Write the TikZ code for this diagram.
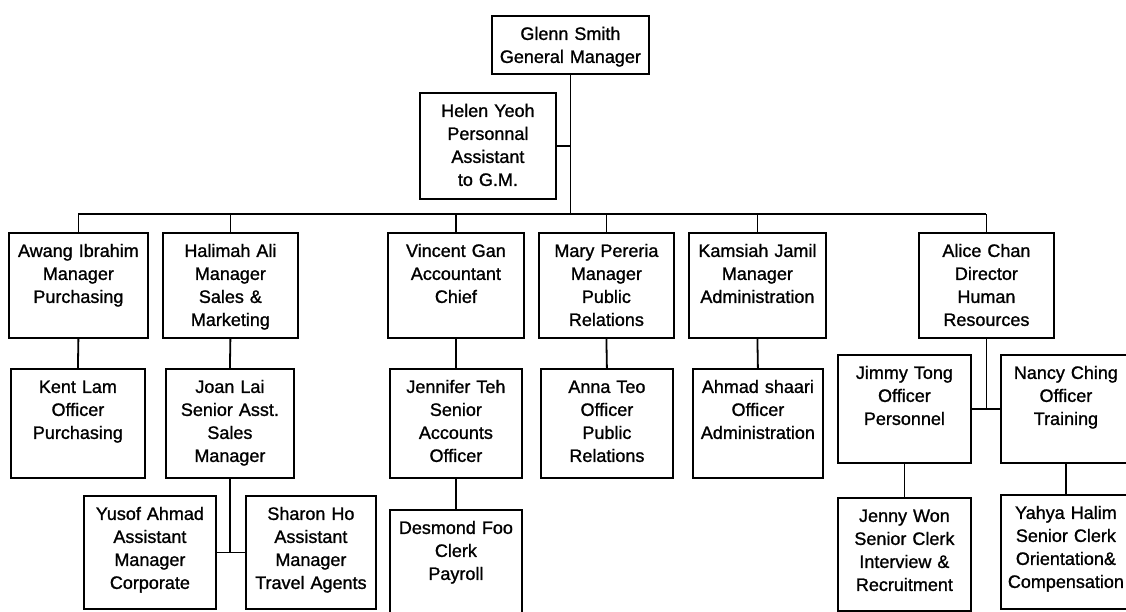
\documentclass[tikz,border=0pt]{standalone}
\usepackage{fontspec}
\setmainfont{Liberation Sans}
\newfontfamily\orgfont{Liberation Sans}[FakeBold=1.2]
\usepackage{tikz}

\tikzset{
	orgbox/.style={draw, line width=1.8pt, anchor=north west, align=center, inner sep=0pt, text height=24pt, font=\orgfont\fontsize{18}{23}\selectfont},
	orgline/.style={line width=1.8pt},
}

\begin{document}
\begin{tikzpicture}[x=1pt, y=-1pt]
	\useasboundingbox (0,0) rectangle (1126,611);
	\clip (0,0) rectangle (1126,611);
	% top
	\node[orgbox, text width=157pt, text depth=34pt] (glenn) at (491,15) {Glenn Smith\\General Manager};
	\node[orgbox, text width=136pt, text depth=82pt] (helen) at (419,92) {Helen Yeoh\\Personnal\\Assistant\\to G.M.};
	\coordinate (bus) at (569,214);
	% managers
	\node[orgbox, text width=139pt, text depth=81pt] (awang) at (8,232) {Awang Ibrahim\\Manager\\Purchasing};
	\node[orgbox, text width=135pt, text depth=81pt] (halimah) at (162,232) {Halimah Ali\\Manager\\Sales \&\\Marketing};
	\node[orgbox, text width=136pt, text depth=81pt] (vincent) at (387,232) {Vincent Gan\\Accountant\\Chief};
	\node[orgbox, text width=135pt, text depth=81pt] (mary) at (538,232) {Mary Pereria\\Manager\\Public\\Relations};
	\node[orgbox, text width=137pt, text depth=81pt] (kamsiah) at (688,232) {Kamsiah Jamil\\Manager\\Administration};
	\node[orgbox, text width=135pt, text depth=81pt] (alice) at (918,232) {Alice Chan\\Director\\Human\\Resources};
	% officers
	\node[orgbox, text width=134pt, text depth=85pt] (kent) at (10,368) {Kent Lam\\Officer\\Purchasing};
	\node[orgbox, text width=128pt, text depth=85pt] (joan) at (165,368) {Joan Lai\\Senior Asst.\\Sales\\Manager};
	\node[orgbox, text width=132pt, text depth=85pt] (jennifer) at (389,368) {Jennifer Teh\\Senior\\Accounts\\Officer};
	\node[orgbox, text width=132pt, text depth=85pt] (anna) at (540,368) {Anna Teo\\Officer\\Public\\Relations};
	\node[orgbox, text width=130pt, text depth=85pt] (ahmad) at (692,368) {Ahmad shaari\\Officer\\Administration};
	\node[orgbox, text width=133pt, text depth=84pt] (jimmy) at (837,354) {Jimmy Tong\\Officer\\Personnel};
	\node[orgbox, text width=130pt, text depth=84pt] (nancy) at (1000,354) {Nancy Ching\\Officer\\Training};
	% bottom row
	\node[orgbox, text width=132pt, text depth=89pt] (yusof) at (83,495) {Yusof Ahmad\\Assistant\\Manager\\Corporate};
	\node[orgbox, text width=130pt, text depth=89pt] (sharon) at (245,495) {Sharon Ho\\Assistant\\Manager\\Travel Agents};
	\node[orgbox, text width=132pt, text depth=96pt] (desmond) at (389,509) {Desmond Foo\\Clerk\\Payroll};
	\node[orgbox, text width=133pt, text depth=89pt] (jenny) at (837,497) {Jenny Won\\Senior Clerk\\Interview \&\\Recruitment};
	\node[orgbox, text width=130pt, text depth=90pt] (yahya) at (1000,494) {Yahya Halim\\Senior Clerk\\Orientation\&\\Compensation};
	% lines
	\draw[orgline] (glenn.south) -- (glenn.south |- bus);
	\draw[orgline] (helen.east) -- (helen.east -| glenn.south);
	\draw[orgline] (awang.north |- bus) -- (alice.north |- bus);
	\foreach \n in {awang,halimah,vincent,mary,kamsiah,alice}
	{
		\draw[orgline] (\n.north) -- (\n.north |- bus);
	}
	\foreach \up/\down in {awang/kent,halimah/joan,vincent/jennifer,mary/anna,kamsiah/ahmad,jennifer/desmond,jimmy/jenny,nancy/yahya}
	{
		\draw[orgline] (\up.south) -- (\down.north);
	}
	\draw[orgline] (joan.south) -- (joan.south |- yusof.east);
	\draw[orgline] (yusof.east) -- (sharon.west);
	\draw[orgline] (alice.south) -- (alice.south |- jimmy.east);
	\draw[orgline] (jimmy.east) -- (nancy.west);
\end{tikzpicture}
\end{document}
